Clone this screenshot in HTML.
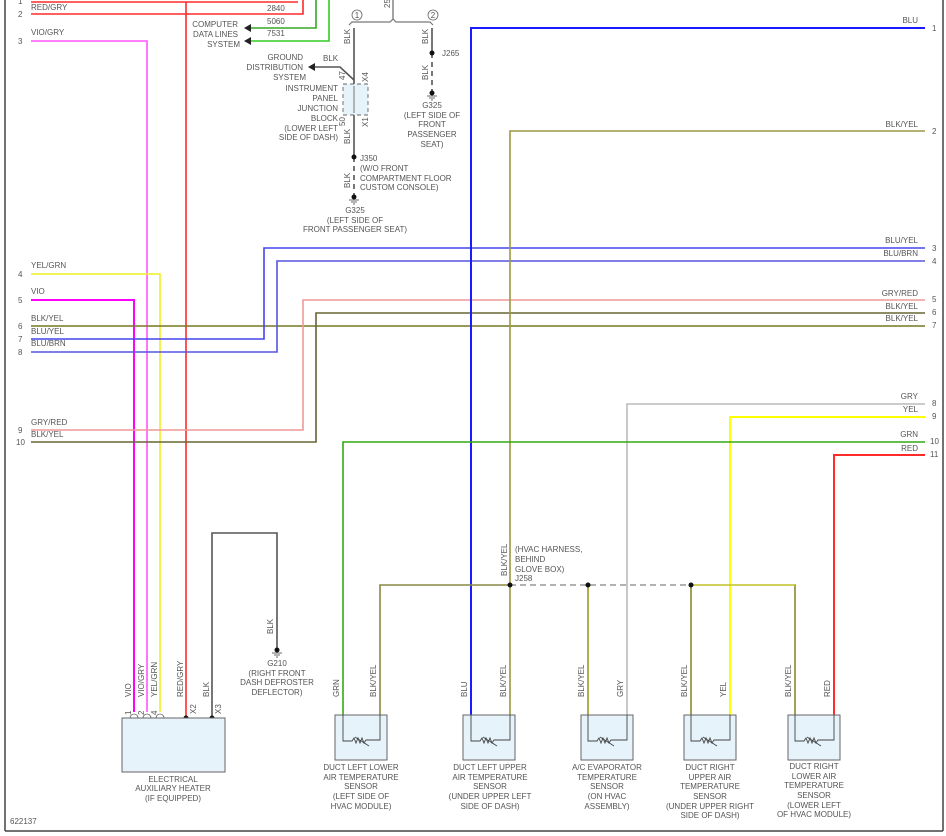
<!DOCTYPE html>
<html><head><meta charset="utf-8"><style>
html,body{margin:0;padding:0;background:#fff;}
svg{display:block;}
text{font-family:"Liberation Sans",sans-serif;font-size:8px;fill:#555;}
</style></head><body>
<svg width="946" height="836" viewBox="0 0 946 836" xmlns="http://www.w3.org/2000/svg">
<rect x="0" y="0" width="946" height="836" fill="#fff"/>
<!-- border -->
<line x1="5" y1="0" x2="5" y2="831" stroke="#444" stroke-width="1.5"/>
<line x1="943" y1="0" x2="943" y2="831" stroke="#444" stroke-width="1.5"/>
<line x1="5" y1="831" x2="943" y2="831" stroke="#444" stroke-width="1.5"/>
<g fill="none" stroke-width="1.6">
<!-- red wires -->
<polyline points="31,2 298,2" stroke="#ff2a2a"/>
<polyline points="31,14 303,14 303,0" stroke="#ff2a2a"/>
<line x1="186" y1="2" x2="186" y2="718" stroke="#ff2a2a"/>
<!-- green data lines -->
<polyline points="250,28 316,28 316,0" stroke="#33aa22"/>
<polyline points="250,41 329,41 329,0" stroke="#33cc22"/>
<!-- vio/gry -->
<polyline points="31,41 147,41 147,712" stroke="#ff55ff"/>
<polyline points="31,274 160,274 160,712" stroke="#eeee22"/>
<polyline points="31,300 134,300 134,712" stroke="#ff00ff" stroke-width="2"/>
<line x1="31" y1="326" x2="925" y2="326" stroke="#777722"/>
<polyline points="31,339 264,339 264,248 925,248" stroke="#4444ee"/>
<polyline points="31,352 277,352 277,261 925,261" stroke="#5555dd"/>
<polyline points="31,430 303,430 303,300 925,300" stroke="#ee9999"/>
<polyline points="31,442 316,442 316,313 925,313" stroke="#666633"/>
<!-- right side -->
<polyline points="925,28 471,28 471,718" stroke="#1a1aff" stroke-width="2"/>
<polyline points="925,131 510,131 510,718" stroke="#999944"/>
<polyline points="925,404 627,404 627,718" stroke="#bbbbbb"/>
<polyline points="925,417 730,417 730,718" stroke="#ffff00" stroke-width="2"/>
<polyline points="925,442 343,442 343,718" stroke="#33aa11"/>
<polyline points="925,455 834,455 834,718" stroke="#ff2a2a" stroke-width="2"/>
<!-- J258 splice -->
<polyline points="510,585 380,585 380,718" stroke="#888844"/>
<line x1="510" y1="585" x2="691" y2="585" stroke="#999" stroke-dasharray="6,4"/>
<line x1="588" y1="585" x2="588" y2="718" stroke="#999922"/>
<polyline points="691,718 691,585 795,585 795,718" stroke="#888833"/>
<line x1="691" y1="585" x2="795" y2="585" stroke="#dddd22" stroke-width="1"/>
<!-- heater BLK to G210 -->
<polyline points="212,718 212,533 277,533 277,648" stroke="#555"/>
<!-- top middle -->
<line x1="354" y1="28" x2="354" y2="84" stroke="#555"/>
<line x1="354" y1="115" x2="354" y2="157" stroke="#555"/>
<line x1="354" y1="157" x2="354" y2="195" stroke="#555" stroke-dasharray="5,4"/>
<polyline points="354,80 340,67 312,67" stroke="#555"/>
<line x1="393" y1="0" x2="393" y2="20" stroke="#666" stroke-width="1.2"/>
<path d="M349,25 L352,22 L390,22 L393,19 L396,22 L430,22 L433,25" stroke="#777" stroke-width="1.2"/>
<line x1="432" y1="28" x2="432" y2="53" stroke="#555"/>
<line x1="432" y1="53" x2="432" y2="92" stroke="#555" stroke-dasharray="5,4"/>
</g>
<!-- arrowheads -->
<polygon points="244,28 251,24 251,32" fill="#222"/>
<polygon points="244,41 251,37 251,45" fill="#222"/>
<polygon points="308,67 315,63 315,71" fill="#222"/>
<!-- circles -->
<circle cx="357" cy="15" r="5" fill="none" stroke="#666" stroke-width="0.8"/>
<text x="357" y="18" text-anchor="middle" font-size="7">1</text>
<circle cx="433" cy="15" r="5" fill="none" stroke="#666" stroke-width="0.8"/>
<text x="433" y="18" text-anchor="middle" font-size="7">2</text>
<text transform="translate(390,8) rotate(-90)">25</text>
<!-- junction block -->
<rect x="343" y="84" width="25" height="31" fill="#e6f3fb" stroke="#666" stroke-dasharray="4,3" stroke-width="0.9"/>
<line x1="354" y1="86" x2="354" y2="113" stroke="#555" stroke-width="0.8"/>
<!-- dots / grounds -->
<g fill="#111">
<circle cx="354" cy="157" r="2.5"/><circle cx="432" cy="53" r="2.5"/>
<circle cx="510" cy="585" r="2.5"/><circle cx="588" cy="585" r="2.5"/><circle cx="691" cy="585" r="2.5"/>
<circle cx="186" cy="718" r="2.5"/><circle cx="212" cy="718" r="2.5"/>
<circle cx="354" cy="197" r="2.5"/><circle cx="432" cy="93" r="2.5"/><circle cx="277" cy="650" r="2.5"/>
</g>
<g stroke="#444" stroke-width="0.8">
<line x1="349" y1="200" x2="359" y2="200"/><line x1="351" y1="202" x2="357" y2="202"/><line x1="353" y1="204" x2="355" y2="204"/>
<line x1="427" y1="96" x2="437" y2="96"/><line x1="429" y1="98" x2="435" y2="98"/><line x1="431" y1="100" x2="433" y2="100"/>
<line x1="272" y1="653" x2="282" y2="653"/><line x1="274" y1="655" x2="280" y2="655"/><line x1="276" y1="657" x2="278" y2="657"/>
</g>
<!-- heater box -->
<rect x="122" y="718" width="103" height="54" fill="#e6f3fb" stroke="#666"/>
<g fill="none" stroke="#666" stroke-width="0.8">
<path d="M130,718 a4,4 0 0 1 8,0"/><path d="M143,718 a4,4 0 0 1 8,0"/><path d="M156,718 a4,4 0 0 1 8,0"/>
</g>
<!-- sensor boxes -->
<g>
<rect x="335" y="715" width="52" height="45" fill="#e6f3fb" stroke="#666"/>
<rect x="463" y="715" width="52" height="45" fill="#e6f3fb" stroke="#666"/>
<rect x="581" y="715" width="52" height="45" fill="#e6f3fb" stroke="#666"/>
<rect x="684" y="715" width="52" height="45" fill="#e6f3fb" stroke="#666"/>
<rect x="788" y="715" width="52" height="45" fill="#e6f3fb" stroke="#666"/>
</g>
<g fill="none" stroke="#444" stroke-width="0.9">
<path d="M343,715 V741 H352 l2,-3 2,5 2,-5 2,5 2,-5 2,5 2,-3 H380 V715"/><line x1="355" y1="737" x2="369" y2="746"/>
<path d="M471,715 V741 H480 l2,-3 2,5 2,-5 2,5 2,-5 2,5 2,-3 H510 V715"/><line x1="483" y1="737" x2="497" y2="746"/>
<path d="M588,715 V741 H597 l2,-3 2,5 2,-5 2,5 2,-5 2,5 2,-3 H627 V715"/><line x1="600" y1="737" x2="614" y2="746"/>
<path d="M691,715 V741 H700 l2,-3 2,5 2,-5 2,5 2,-5 2,5 2,-3 H730 V715"/><line x1="703" y1="737" x2="717" y2="746"/>
<path d="M795,715 V741 H804 l2,-3 2,5 2,-5 2,5 2,-5 2,5 2,-3 H834 V715"/><line x1="807" y1="737" x2="821" y2="746"/>
</g>
<!-- left labels -->
<text x="18" y="4">1</text><text x="31" y="10">RED/GRY</text>
<text x="18" y="17">2</text>
<text x="18" y="44">3</text><text x="31" y="35">VIO/GRY</text>
<text x="18" y="277">4</text><text x="31" y="268">YEL/GRN</text>
<text x="18" y="303">5</text><text x="31" y="294">VIO</text>
<text x="18" y="329">6</text><text x="31" y="321">BLK/YEL</text>
<text x="18" y="342">7</text><text x="31" y="334">BLU/YEL</text>
<text x="18" y="355">8</text><text x="31" y="346">BLU/BRN</text>
<text x="18" y="433">9</text><text x="31" y="425">GRY/RED</text>
<text x="16" y="445">10</text><text x="31" y="437">BLK/YEL</text>
<!-- right labels -->
<g text-anchor="end">
<text x="918" y="23">BLU</text><text x="918" y="127">BLK/YEL</text>
<text x="918" y="243">BLU/YEL</text><text x="918" y="256">BLU/BRN</text>
<text x="918" y="296">GRY/RED</text><text x="918" y="309">BLK/YEL</text><text x="918" y="321">BLK/YEL</text>
<text x="918" y="399">GRY</text><text x="918" y="412">YEL</text>
<text x="918" y="437">GRN</text><text x="918" y="451">RED</text>
</g>
<text x="932" y="31">1</text><text x="932" y="134">2</text><text x="932" y="251">3</text><text x="932" y="264">4</text>
<text x="932" y="302">5</text><text x="932" y="315">6</text><text x="932" y="328">7</text>
<text x="932" y="406">8</text><text x="932" y="419">9</text><text x="930" y="444">10</text><text x="930" y="457">11</text>
<!-- top middle text -->
<text x="267" y="11">2840</text><text x="267" y="24">5060</text><text x="267" y="36">7531</text>
<g text-anchor="end">
<text x="238" y="27">COMPUTER</text><text x="238" y="37">DATA LINES</text><text x="240" y="47">SYSTEM</text>
<text x="303" y="60">GROUND</text><text x="303" y="70">DISTRIBUTION</text><text x="306" y="80">SYSTEM</text>
<text x="338" y="91">INSTRUMENT</text><text x="338" y="101">PANEL</text><text x="338" y="111">JUNCTION</text>
<text x="338" y="121">BLOCK</text><text x="338" y="131">(LOWER LEFT</text><text x="338" y="140">SIDE OF DASH)</text>
</g>
<text x="323" y="61">BLK</text>
<text transform="translate(350,44) rotate(-90)">BLK</text>
<text transform="translate(350,144) rotate(-90)">BLK</text>
<text transform="translate(350,188) rotate(-90)">BLK</text>
<text transform="translate(345,80) rotate(-90)">47</text>
<text transform="translate(345,126) rotate(-90)">50</text>
<text transform="translate(368,82) rotate(-90)">X4</text>
<text transform="translate(368,127) rotate(-90)">X1</text>
<text x="360" y="161">J350</text>
<text x="360" y="171">(W/O FRONT</text><text x="360" y="181">COMPARTMENT FLOOR</text><text x="360" y="190">CUSTOM CONSOLE)</text>
<g text-anchor="middle">
<text x="355" y="213">G325</text><text x="355" y="223">(LEFT SIDE OF</text><text x="355" y="232">FRONT PASSENGER SEAT)</text>
<text x="432" y="108">G325</text><text x="432" y="118">(LEFT SIDE OF</text><text x="432" y="127">FRONT</text><text x="432" y="137">PASSENGER</text><text x="432" y="147">SEAT)</text>
<text x="277" y="666">G210</text><text x="277" y="676">(RIGHT FRONT</text><text x="277" y="685">DASH DEFROSTER</text><text x="277" y="695">DEFLECTOR)</text>
<text x="173" y="782">ELECTRICAL</text><text x="173" y="791">AUXILIARY HEATER</text><text x="173" y="801">(IF EQUIPPED)</text>
<text x="361" y="770">DUCT LEFT LOWER</text><text x="361" y="780">AIR TEMPERATURE</text><text x="361" y="789">SENSOR</text><text x="361" y="799">(LEFT SIDE OF</text><text x="361" y="809">HVAC MODULE)</text>
<text x="490" y="770">DUCT LEFT UPPER</text><text x="490" y="780">AIR TEMPERATURE</text><text x="490" y="789">SENSOR</text><text x="490" y="799">(UNDER UPPER LEFT</text><text x="490" y="809">SIDE OF DASH)</text>
<text x="607" y="770">A/C EVAPORATOR</text><text x="607" y="780">TEMPERATURE</text><text x="607" y="789">SENSOR</text><text x="607" y="799">(ON HVAC</text><text x="607" y="809">ASSEMBLY)</text>
<text x="710" y="770">DUCT RIGHT</text><text x="710" y="780">UPPER AIR</text><text x="710" y="789">TEMPERATURE</text><text x="710" y="799">SENSOR</text><text x="710" y="809">(UNDER UPPER RIGHT</text><text x="710" y="818">SIDE OF DASH)</text>
<text x="814" y="769">DUCT RIGHT</text><text x="814" y="779">LOWER AIR</text><text x="814" y="788">TEMPERATURE</text><text x="814" y="798">SENSOR</text><text x="814" y="808">(LOWER LEFT</text><text x="814" y="817">OF HVAC MODULE)</text>
</g>
<text transform="translate(428,44) rotate(-90)">BLK</text>
<text transform="translate(428,80) rotate(-90)">BLK</text>
<text x="442" y="56">J265</text>
<!-- J258 -->
<text transform="translate(507,576) rotate(-90)">BLK/YEL</text>
<text x="515" y="552">(HVAC HARNESS,</text><text x="515" y="562">BEHIND</text><text x="515" y="572">GLOVE BOX)</text><text x="515" y="581">J258</text>
<text transform="translate(273,634) rotate(-90)">BLK</text>
<!-- heater pins -->
<text transform="translate(131,697) rotate(-90)">VIO</text>
<text transform="translate(144,697) rotate(-90)">VIO/GRY</text>
<text transform="translate(157,697) rotate(-90)">YEL/GRN</text>
<text transform="translate(183,697) rotate(-90)">RED/GRY</text>
<text transform="translate(209,697) rotate(-90)">BLK</text>
<text transform="translate(131,715) rotate(-90)">1</text>
<text transform="translate(144,715) rotate(-90)">2</text>
<text transform="translate(157,715) rotate(-90)">4</text>
<text transform="translate(196,714) rotate(-90)">X2</text>
<text transform="translate(221,714) rotate(-90)">X3</text>
<!-- sensor pin labels -->
<text transform="translate(339,697) rotate(-90)">GRN</text>
<text transform="translate(376,697) rotate(-90)">BLK/YEL</text>
<text transform="translate(467,697) rotate(-90)">BLU</text>
<text transform="translate(506,697) rotate(-90)">BLK/YEL</text>
<text transform="translate(584,697) rotate(-90)">BLK/YEL</text>
<text transform="translate(623,697) rotate(-90)">GRY</text>
<text transform="translate(687,697) rotate(-90)">BLK/YEL</text>
<text transform="translate(726,697) rotate(-90)">YEL</text>
<text transform="translate(791,697) rotate(-90)">BLK/YEL</text>
<text transform="translate(830,697) rotate(-90)">RED</text>
<text x="10" y="824" font-size="7">622137</text>
</svg>
</body></html>
